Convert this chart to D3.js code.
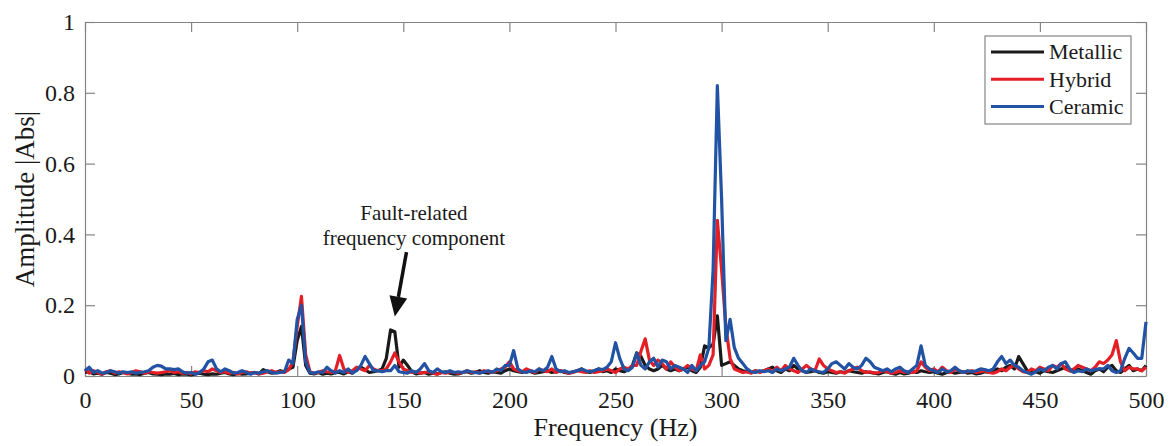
<!DOCTYPE html>
<html>
<head>
<meta charset="utf-8">
<script src="https://cdn.jsdelivr.net/npm/d3@7"></script>
<style>
  body { margin: 0; background: #fff; }
  svg { display: block; font-family: "Liberation Serif", "Times New Roman", serif; }
</style>
</head>
<body>
<div id="graph"></div>
<script>
// spectrum bins, 2 Hz apart, 0..500 Hz
var freqStep = 2

var metallic = [
  0.01,0.012,0.006,0.008,0.005,0.01,0.008,0.004,0.006,0.01,
  0.008,0.005,0.006,0.004,0.008,0.01,0.006,0.005,0.004,0.006,
  0.005,0.007,0.004,0.006,0.005,0.003,0.006,0.008,0.005,0.004,
  0.006,0.005,0.008,0.01,0.006,0.004,0.007,0.005,0.006,0.008,
  0.01,0.006,0.018,0.012,0.008,0.01,0.015,0.012,0.02,0.025,
  0.1,0.14,0.03,0.008,0.006,0.01,0.005,0.008,0.006,0.01,
  0.01,0.006,0.012,0.008,0.02,0.025,0.018,0.01,0.012,0.015,
  0.02,0.05,0.13,0.125,0.025,0.045,0.03,0.012,0.006,0.008,
  0.01,0.005,0.008,0.006,0.01,0.012,0.008,0.005,0.006,0.01,
  0.012,0.008,0.01,0.015,0.01,0.008,0.012,0.01,0.008,0.015,
  0.02,0.015,0.012,0.01,0.015,0.012,0.008,0.01,0.012,0.015,
  0.01,0.012,0.015,0.01,0.008,0.012,0.015,0.02,0.012,0.01,
  0.015,0.02,0.012,0.015,0.01,0.02,0.015,0.012,0.018,0.03,
  0.065,0.055,0.03,0.02,0.015,0.02,0.03,0.02,0.015,0.02,
  0.015,0.02,0.025,0.015,0.01,0.025,0.085,0.08,0.09,0.17,
  0.03,0.035,0.04,0.03,0.02,0.015,0.012,0.01,0.015,0.012,
  0.015,0.02,0.025,0.015,0.01,0.02,0.015,0.03,0.02,0.015,
  0.01,0.012,0.015,0.01,0.008,0.012,0.01,0.008,0.012,0.01,
  0.015,0.012,0.01,0.008,0.012,0.01,0.008,0.006,0.01,0.012,
  0.008,0.005,0.01,0.006,0.008,0.012,0.01,0.015,0.012,0.01,
  0.012,0.008,0.005,0.01,0.012,0.008,0.01,0.012,0.008,0.01,
  0.006,0.008,0.012,0.01,0.015,0.02,0.015,0.025,0.03,0.02,
  0.055,0.035,0.015,0.01,0.012,0.008,0.015,0.012,0.01,0.015,
  0.02,0.025,0.015,0.012,0.02,0.015,0.01,0.005,0.015,0.02,
  0.012,0.025,0.03,0.015,0.01,0.02,0.03,0.015,0.02,0.015,
  0.03
]

var hybrid = [
  0.02,0.008,0.015,0.01,0.005,0.012,0.015,0.008,0.012,0.01,
  0.006,0.01,0.015,0.012,0.008,0.012,0.01,0.008,0.01,0.012,
  0.015,0.01,0.012,0.008,0.01,0.006,0.012,0.01,0.015,0.012,
  0.02,0.015,0.01,0.012,0.008,0.01,0.006,0.01,0.012,0.008,
  0.01,0.006,0.008,0.012,0.015,0.01,0.012,0.01,0.018,0.04,
  0.14,0.225,0.06,0.012,0.008,0.01,0.015,0.012,0.01,0.015,
  0.058,0.02,0.01,0.015,0.025,0.02,0.015,0.03,0.02,0.015,
  0.015,0.02,0.04,0.065,0.04,0.02,0.015,0.01,0.012,0.008,
  0.01,0.012,0.008,0.005,0.01,0.008,0.012,0.01,0.008,0.01,
  0.015,0.01,0.012,0.008,0.015,0.012,0.01,0.015,0.02,0.025,
  0.04,0.02,0.015,0.012,0.02,0.015,0.01,0.02,0.015,0.012,
  0.02,0.01,0.015,0.012,0.008,0.01,0.015,0.012,0.01,0.015,
  0.01,0.012,0.015,0.02,0.015,0.01,0.02,0.025,0.02,0.03,
  0.03,0.07,0.105,0.045,0.03,0.045,0.035,0.02,0.04,0.025,
  0.015,0.02,0.03,0.02,0.015,0.06,0.02,0.03,0.06,0.44,
  0.3,0.14,0.05,0.02,0.015,0.01,0.012,0.008,0.015,0.01,
  0.015,0.02,0.012,0.025,0.015,0.03,0.02,0.015,0.01,0.02,
  0.03,0.02,0.015,0.048,0.03,0.02,0.015,0.01,0.012,0.008,
  0.015,0.02,0.025,0.015,0.01,0.012,0.008,0.01,0.015,0.012,
  0.008,0.01,0.015,0.01,0.012,0.01,0.015,0.04,0.025,0.015,
  0.02,0.012,0.025,0.015,0.01,0.02,0.015,0.01,0.012,0.015,
  0.01,0.012,0.015,0.01,0.008,0.012,0.02,0.015,0.025,0.03,
  0.02,0.012,0.01,0.02,0.015,0.025,0.02,0.015,0.03,0.025,
  0.035,0.02,0.015,0.02,0.03,0.025,0.02,0.015,0.025,0.04,
  0.035,0.045,0.06,0.1,0.04,0.015,0.025,0.02,0.02,0.015,
  0.025
]

var ceramic = [
  0.015,0.025,0.01,0.015,0.008,0.01,0.015,0.012,0.008,0.012,
  0.01,0.012,0.008,0.01,0.012,0.015,0.025,0.03,0.028,0.02,
  0.02,0.018,0.02,0.012,0.008,0.01,0.005,0.01,0.02,0.04,
  0.045,0.02,0.012,0.02,0.015,0.008,0.01,0.015,0.01,0.005,
  0.01,0.008,0.012,0.015,0.01,0.008,0.01,0.012,0.045,0.035,
  0.16,0.2,0.04,0.01,0.008,0.012,0.01,0.025,0.015,0.008,
  0.015,0.01,0.02,0.008,0.015,0.03,0.055,0.035,0.015,0.015,
  0.012,0.015,0.015,0.03,0.012,0.01,0.008,0.015,0.01,0.02,
  0.035,0.015,0.01,0.02,0.012,0.01,0.015,0.01,0.012,0.01,
  0.015,0.012,0.01,0.008,0.012,0.015,0.01,0.02,0.015,0.03,
  0.03,0.072,0.02,0.012,0.01,0.015,0.012,0.02,0.015,0.025,
  0.055,0.02,0.012,0.015,0.01,0.012,0.015,0.02,0.015,0.012,
  0.015,0.02,0.018,0.025,0.04,0.094,0.05,0.02,0.015,0.025,
  0.065,0.03,0.02,0.04,0.05,0.025,0.045,0.04,0.02,0.03,
  0.025,0.02,0.01,0.03,0.015,0.03,0.04,0.08,0.3,0.82,
  0.5,0.1,0.16,0.08,0.05,0.035,0.02,0.012,0.01,0.015,
  0.012,0.015,0.01,0.02,0.015,0.02,0.025,0.05,0.03,0.015,
  0.01,0.02,0.015,0.012,0.01,0.02,0.035,0.04,0.03,0.02,
  0.035,0.025,0.02,0.03,0.05,0.04,0.025,0.02,0.015,0.02,
  0.012,0.02,0.025,0.015,0.01,0.02,0.03,0.085,0.03,0.02,
  0.015,0.01,0.02,0.012,0.015,0.025,0.015,0.01,0.015,0.012,
  0.015,0.02,0.018,0.015,0.02,0.04,0.055,0.035,0.045,0.03,
  0.025,0.015,0.01,0.005,0.012,0.02,0.015,0.025,0.03,0.02,
  0.035,0.04,0.02,0.01,0.015,0.012,0.02,0.015,0.018,0.02,
  0.02,0.03,0.015,0.01,0.015,0.05,0.078,0.065,0.05,0.05,
  0.153
]

var seriesNames = ['Metallic', 'Hybrid', 'Ceramic']
var seriesColors = ['#1a1a1a', '#e41e26', '#2152a3']
var xTicks = [0, 50, 100, 150, 200, 250, 300, 350, 400, 450, 500]
var yTicks = [0, 0.2, 0.4, 0.6, 0.8, 1]

var serif = '"Liberation Serif", "Times New Roman", serif'
var margin = {top: 22, right: 26, bottom: 70, left: 85}
var W = 1172, H = 446
var width = W - margin.left - margin.right,
    height = H - margin.top - margin.bottom

var svg = d3.select('#graph').append('svg')
  .attr('width', W).attr('height', H)
var g = svg.append('g')
  .attr('transform', 'translate(' + margin.left + ',' + margin.top + ')')

var x = d3.scaleLinear().domain([0, 500]).range([0, width])
var y = d3.scaleLinear().domain([0, 1]).range([height, 0])

var axisColor = '#858585'

function styleAxis(sel) {
  sel.attr('font-family', serif)
  sel.selectAll('path.domain').attr('stroke', axisColor).attr('stroke-width', 1.2)
  sel.selectAll('.tick line').attr('stroke', axisColor).attr('stroke-width', 1.2)
  sel.selectAll('.tick text').attr('fill', '#1a1a1a').style('font-size', '24px')
    .style('font-family', serif)
}

g.append('g')
  .attr('transform', 'translate(0,' + height + ')')
  .call(d3.axisBottom(x).tickValues(xTicks).tickSize(-10).tickSizeOuter(0).tickPadding(15))
  .call(styleAxis)
g.append('g')
  .call(d3.axisTop(x).tickValues(xTicks).tickSize(-10).tickSizeOuter(0).tickFormat(''))
  .call(styleAxis)
g.append('g')
  .call(d3.axisLeft(y).tickValues(yTicks).tickSize(-10).tickSizeOuter(0).tickPadding(10).tickFormat(d3.format('')))
  .call(styleAxis)
g.append('g')
  .attr('transform', 'translate(' + width + ',0)')
  .call(d3.axisRight(y).tickValues(yTicks).tickSize(-10).tickSizeOuter(0).tickFormat(''))
  .call(styleAxis)

// spectra
var line = d3.line()
  .x(function(d, i) { return x(i * freqStep) })
  .y(function(d) { return y(d) })

;[metallic, hybrid, ceramic].forEach(function(s, k) {
  g.append('path')
    .datum(s)
    .attr('fill', 'none')
    .attr('stroke', seriesColors[k])
    .attr('stroke-width', 3.2)
    .attr('stroke-linejoin', 'round')
    .attr('d', line)
})

// annotation
var ann = g.append('g').style('font-size', '21px').attr('fill', '#1a1a1a')
ann.append('text').attr('x', x(155)).attr('y', y(0.44)).attr('text-anchor', 'middle').text('Fault-related')
ann.append('text').attr('x', x(155)).attr('y', y(0.37)).attr('text-anchor', 'middle').text('frequency component')

var tail = [x(151.5), y(0.35)], tip = [x(146), y(0.168)]
var ang = Math.atan2(tip[1] - tail[1], tip[0] - tail[0])
var headLen = 20, headW = 9
var base = [tip[0] - headLen * Math.cos(ang), tip[1] - headLen * Math.sin(ang)]
g.append('line')
  .attr('x1', tail[0]).attr('y1', tail[1]).attr('x2', base[0]).attr('y2', base[1])
  .attr('stroke', '#111').attr('stroke-width', 3.5)
g.append('path')
  .attr('d', 'M' + tip + 'L' + [base[0] + headW * Math.sin(ang), base[1] - headW * Math.cos(ang)] +
    'L' + [base[0] - headW * Math.sin(ang), base[1] + headW * Math.cos(ang)] + 'Z')
  .attr('fill', '#111')

// legend
var lg = g.append('g').attr('transform', 'translate(' + (width - 161) + ',14)')
lg.append('rect').attr('width', 146).attr('height', 88)
  .attr('fill', '#fff').attr('stroke', axisColor).attr('stroke-width', 1.2)
seriesNames.forEach(function(n, k) {
  var row = lg.append('g').attr('transform', 'translate(0,' + (16 + k * 27.3) + ')')
  row.append('line').attr('x1', 6).attr('x2', 59).attr('y1', 0).attr('y2', 0)
    .attr('stroke', seriesColors[k]).attr('stroke-width', 3)
  row.append('text').attr('x', 64).attr('y', 0).attr('dy', '0.33em')
    .style('font-size', '22px').attr('fill', '#1a1a1a').text(n)
})

// axis titles
svg.append('text')
  .attr('x', margin.left + width / 2).attr('y', 436)
  .attr('text-anchor', 'middle').style('font-size', '26px').attr('fill', '#1a1a1a')
  .text('Frequency (Hz)')
svg.append('text')
  .attr('transform', 'translate(34,' + (margin.top + height / 2) + ') rotate(-90)')
  .attr('text-anchor', 'middle').style('font-size', '27px').attr('fill', '#1a1a1a')
  .text('Amplitude |Abs|')
</script>
</body>
</html>
